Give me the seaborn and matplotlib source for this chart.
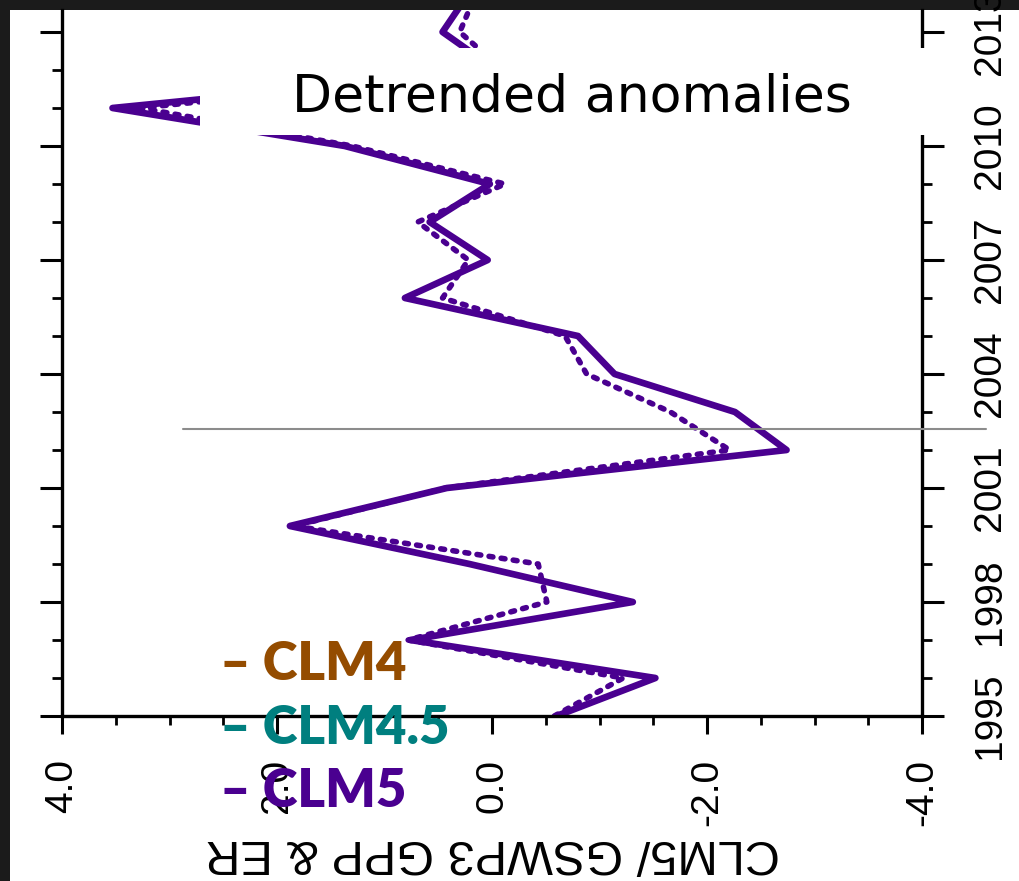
import numpy as np
import matplotlib
matplotlib.use("Agg")
import matplotlib.pyplot as plt
from matplotlib.patches import Rectangle
import seaborn as sns

# ---------------- data ----------------
years = [1995, 1996, 1997, 1998, 1999, 2000, 2001, 2002, 2003, 2004,
         2005, 2006, 2007, 2008, 2009, 2010, 2011, 2012, 2013, 2014]
clm5_gpp = [-0.60, -1.52, 0.76, -1.31, 0.21, 1.88, 0.42, -2.74, -2.26, -1.14,
            -0.80, 0.81, 0.04, 0.58, 0.02, 1.37, 3.53, -0.04, 0.46, 0.22]
clm5_er = [-0.58, -1.22, 0.78, -0.51, -0.43, 1.84, 0.43, -2.21, -1.66, -0.88,
           -0.68, 0.46, 0.22, 0.69, -0.12, 1.30, 3.27, -0.10, 0.30, 0.15]
marker_year = 2002.54

xtick_values = [4.0, 2.0, 0.0, -2.0, -4.0]
xtick_labels = ["4.0", "2.0", "0.0", "-2.0", "-4.0"]
ytick_values = [1995, 1998, 2001, 2004, 2007, 2010, 2013]
ytick_labels = ["1995", "1998", "2001", "2004", "2007", "2010", "2013"]

legend_names = ["CLM4", "CLM4.5", "CLM5"]
legend_colors = ["#944c00", "#007f7f", "#4a0090"]
title_text = "Detrended anomalies"
axis_label = "CLM5/ GSWP3 GPP & ER"

line_color = "#4a0090"

# ---------------- figure ----------------
sns.set_theme(style="white")
plt.rcParams["font.family"] = ["DejaVu Sans"]

W, H = 1019, 881
fig = plt.figure(figsize=(W / 100, H / 100), dpi=100)
fig.patch.set_facecolor("#1b1b1b")
fig.add_artist(Rectangle((10 / W, 0), 1, (H - 10) / H, transform=fig.transFigure,
                         facecolor="white", edgecolor="none", zorder=-5))

ax = fig.add_axes([62 / W, (H - 716) / H, 860 / W, 706 / H])
ax.set_facecolor("white")

sns.lineplot(x=clm5_gpp, y=years, sort=False, orient="y", estimator=None,
             color=line_color, linewidth=4.8, ax=ax,
             solid_joinstyle="round", solid_capstyle="round")
sns.lineplot(x=clm5_er, y=years, sort=False, orient="y", estimator=None,
             color=line_color, linewidth=4.0, ax=ax,
             linestyle=(0, (0.7, 1.5)), dash_capstyle="round",
             dash_joinstyle="round")

ax.axhline(marker_year, xmin=(183 - 62) / 860, xmax=(986 - 62) / 860,
           color="#8c8c8c", lw=1.5, clip_on=False, zorder=5)

ax.set_xlim(4, -4)
ax.set_ylim(1995, 1995 + 706 / 38.0)

tick_font = ["Liberation Sans Narrow", "Liberation Sans", "DejaVu Sans"]
ax.set_xticks(xtick_values)
ax.set_xticklabels(xtick_labels, rotation=90, fontsize=28, family=tick_font)
ax.set_xticks(np.arange(-4, 4.01, 0.5), minor=True)
ax.set_yticks(ytick_values)
ax.set_yticklabels(ytick_labels, rotation=90, fontsize=28, family=tick_font,
                   va="center")
ax.set_yticks(np.arange(1995, 2014), minor=True)

ax.xaxis.set_ticks_position("bottom")
ax.yaxis.set_ticks_position("both")
ax.tick_params(axis="both", which="both", direction="out", colors="black")
ax.tick_params(axis="y", which="both", labelleft=False, labelright=True)
ax.tick_params(axis="y", which="major", length=16, width=2.2, pad=20)
ax.tick_params(axis="y", which="minor", length=7.5, width=2.0)
ax.tick_params(axis="x", which="major", length=13, width=2.2, pad=18)
ax.tick_params(axis="x", which="minor", length=6.5, width=2.0)

ax.spines["top"].set_visible(False)
for s in ["left", "right", "bottom"]:
    ax.spines[s].set_visible(True)
    ax.spines[s].set_linewidth(2.4)
    ax.spines[s].set_color("black")
ax.set_xlabel("")
ax.set_ylabel("")
ax.grid(False)

# upside-down axis label
fig.text(493 / W, 1 - 853 / H, axis_label, rotation=180, ha="center",
         va="center", fontsize=35, family=["Liberation Sans", "DejaVu Sans"],
         color="black")

# title box
fig.add_artist(Rectangle((200 / W, 1 - 135 / H), 750 / W, 87 / H,
                         transform=fig.transFigure, facecolor="white",
                         edgecolor="none", zorder=5))
fig.text(292 / W, 1 - 112 / H, title_text, ha="left", va="baseline",
         fontsize=37.5, family=["DejaVu Sans"], color="black", zorder=6)

# legend texts
baselines = [680, 744, 807]
for name, col, yb in zip(legend_names, legend_colors, baselines):
    fig.text(220 / W, 1 - yb / H, "\u2013 " + name, ha="left", va="baseline",
             fontsize=38, fontweight="heavy", family=["Lato", "DejaVu Sans"],
             color=col, zorder=6)

fig.savefig("out.png", dpi=100, facecolor=fig.get_facecolor())
